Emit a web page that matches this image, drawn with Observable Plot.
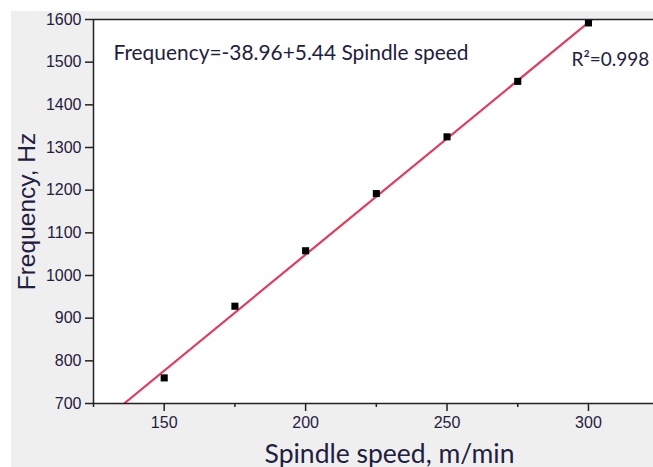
<!DOCTYPE html>
<html>
<head>
<meta charset="utf-8">
<script src="https://cdn.jsdelivr.net/npm/d3@7"></script>
<script src="https://cdn.jsdelivr.net/npm/@observablehq/plot@0.6"></script>
<style>
  html, body { margin: 0; padding: 0; background: #ffffff; }
  #wrap { position: relative; width: 653px; height: 467px; background: #ffffff; overflow: hidden; }
  #panel { position: absolute; left: 11px; top: 11px; right: 0; bottom: 0; background: #efefef; }
  #chart { position: absolute; left: 0; top: 0; }
</style>
</head>
<body>
<div id="wrap"><div id="panel"></div><div id="chart"></div></div>
<script>
// ---- data ----
const spindleSpeed = [150, 175, 200, 225, 250, 275, 300];
const frequency    = [760, 928, 1058, 1192, 1325, 1455, 1592];
const intercept = -38.96;
const slope = 5.44;
const r2 = 0.998;
const xDomain = [125, 323];
const yDomain = [700, 1600];
const xMajorTicks = [150, 200, 250, 300];
const xMinorTicks = [125, 175, 225, 275];
const yTicks = [700, 800, 900, 1000, 1100, 1200, 1300, 1400, 1500, 1600];
const xLabel = "Spindle speed, m/min";
const yLabel = "Frequency, Hz";
const eqText = `Frequency=${intercept}+${slope} Spindle speed`;
const r2Text = `R\u00B2=${r2}`;

const points = spindleSpeed.map((s, i) => ({ s, f: frequency[i] }));
// fitted line endpoints derived from the equation across the y range
const fit = yDomain.map(f => ({ s: (f - intercept) / slope, f }));

const tickFill = "#1f2040";
const arialLike = "Liberation Sans, Arial, sans-serif";
const calibriLike = "Lato, Open Sans, sans-serif";

const plot = Plot.plot({
  width: 653,
  height: 467,
  marginLeft: 93,
  marginTop: 19,
  marginBottom: 64,
  marginRight: 0,
  x: { domain: xDomain },
  y: { domain: yDomain },
  style: { background: "transparent", overflow: "visible", fontSize: "16px", fontFamily: arialLike },
  marks: [
    Plot.frame({ fill: "white", stroke: null }),
    Plot.line(fit, { x: "s", y: "f", stroke: "#e8385b", strokeWidth: 2.2, clip: true }),
    Plot.dot(points, { x: "s", y: "f", symbol: "square", r: 4, fill: "black", stroke: null }),
    Plot.ruleY([yDomain[1]], { stroke: "#222", strokeWidth: 1.5 }),
    Plot.ruleY([yDomain[0]], { stroke: "#222", strokeWidth: 1.5 }),
    Plot.ruleX([xDomain[0]], { stroke: "#222", strokeWidth: 1.5 }),
    Plot.axisY({ ticks: yTicks, tickSize: 8, tickPadding: 4, label: null, tickFormat: d => String(d),
      fontSize: 16, fill: tickFill, stroke: "#222", strokeWidth: 1.5 }),
    Plot.axisX({ ticks: xMajorTicks, tickSize: 8, tickPadding: 5, label: null, tickFormat: d => String(d),
      fontSize: 16, fill: tickFill, stroke: "#222", strokeWidth: 1.5 }),
    Plot.axisX({ ticks: xMinorTicks, tickSize: 4, text: null, label: null, stroke: "#222", strokeWidth: 1.5 }),
    Plot.text([yLabel], { frameAnchor: "left", dx: -59, rotate: -90, lineAnchor: "bottom", textAnchor: "middle",
      fontSize: 24.5, fontFamily: arialLike, fill: tickFill }),
    Plot.text([xLabel], { frameAnchor: "bottom", dx: 16, dy: 59, lineAnchor: "bottom",
      fontSize: 26.5, fontFamily: calibriLike, fill: tickFill }),
    Plot.text([eqText], { frameAnchor: "top-left", dx: 20, dy: 40, lineAnchor: "bottom", textAnchor: "start",
      fontSize: 20.9, fontFamily: calibriLike, fill: tickFill }),
    Plot.text([r2Text], { frameAnchor: "top-left", dx: 478, dy: 46, lineAnchor: "bottom", textAnchor: "start",
      fontSize: 19, fontFamily: calibriLike, fill: tickFill })
  ]
});
document.getElementById("chart").appendChild(plot);
</script>
</body>
</html>
